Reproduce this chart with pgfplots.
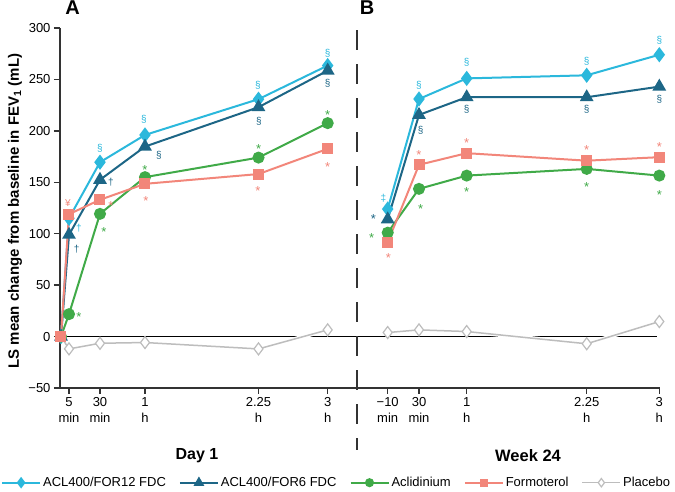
\documentclass[border=0pt]{standalone}
\usepackage{pgfplots}
\pgfplotsset{compat=1.18}
\usepackage{fontspec}
\setmainfont{Liberation Sans}
\definecolor{ccyan}{HTML}{2BB8DC}
\definecolor{cteal}{HTML}{1D6686}
\definecolor{cgreen}{HTML}{40AA48}
\definecolor{csalmon}{HTML}{F2867A}
\definecolor{cgray}{HTML}{BDBDBD}
\definecolor{axgray}{HTML}{333333}
\tikzset{
  sym/.style={inner sep=0pt, font=\fontsize{10}{10}\selectfont},
  star/.style={inner sep=0pt, font=\fontsize{13}{13}\selectfont, yshift=-3pt},
}
\newcommand{\AnS}[3]{\node[sym,text=#3] at (axis cs:#1,#2) {§};}
\newcommand{\AnSt}[3]{\node[star,text=#3] at (axis cs:#1,#2) {*};}
\newcommand{\AnSy}[4]{\node[sym,text=#3] at (axis cs:#1,#2) {#4};}
\begin{document}
\begin{tikzpicture}
\useasboundingbox (0,0) rectangle (675pt,492pt);
\begin{axis}[
  at={(60pt,104pt)}, anchor=south west,
  scale only axis, width=600pt, height=360pt,
  xmin=60, xmax=660, ymin=-50, ymax=300,
  axis x line=bottom, axis y line=left,
  axis line style={-, axgray, line width=1.5pt},
  clip=false,
  xtick={69,100,145,258.5,327.7,387.7,419,466.7,586.7,659.3},
  xticklabels={{5\\min},{30\\min},{1\\h},{2.25\\h},{3\\h},{−10\\min},{30\\min},{1\\h},{2.25\\h},{3\\h}},
  xticklabel style={align=center, font=\fontsize{13}{16}\selectfont, text=black},
  ytick={-50,0,50,100,150,200,250,300},
  yticklabels={−50,0,50,100,150,200,250,300},
  yticklabel style={font=\fontsize{13}{15}\selectfont, text=black},
  tick align=outside,
  major tick length=6pt,
  tick style={axgray, line width=1.5pt},
  ylabel={LS mean change from baseline in FEV\textsubscript{1} (mL)},
  ylabel style={at={(axis description cs:-0.075,0.4917)}, anchor=center, font=\fontsize{15}{15}\selectfont\bfseries},
  legend columns=5,
  legend style={at={(axis description cs:0.461,-0.263)}, anchor=center, draw=none, fill=none,
    font=\fontsize{13}{15}\selectfont,
    /tikz/every even column/.append style={column sep=11pt}},
  legend image code/.code={\draw[mark repeat=2, mark phase=2, #1, every mark/.append style={scale=0.7}] plot coordinates {(0pt,0pt) (19pt,0pt) (38pt,0pt)};},
]
% zero line
\draw[black, line width=1.5pt] (axis cs:60,0) -- (axis cs:657,0);
% separator
\draw[axgray, line width=2.5pt, dash pattern=on 20pt off 14pt] (axis cs:357,298) -- (axis cs:357,-110);

% Placebo (drawn first, with halo)
\addplot[white, line width=4pt, forget plot] coordinates {(61,0) (69,-12) (100,-6.5) (145,-5.8) (258.5,-12) (327.7,6.5)};
\addplot[cgray, line width=1.5pt, mark=diamond*, mark size=6pt, mark options={fill=white, draw=cgray, line width=1.2pt}, forget plot]
  coordinates {(61,0) (69,-12) (100,-6.5) (145,-5.8) (258.5,-12) (327.7,6.5)};
\addplot[white, line width=4pt, forget plot] coordinates {(387.7,3.9) (419,6.5) (466.7,4.9) (586.7,-7) (659.3,14.6)};
\addplot[cgray, line width=1.5pt, mark=diamond*, mark size=6pt, mark options={fill=white, draw=cgray, line width=1.2pt}, forget plot]
  coordinates {(387.7,3.9) (419,6.5) (466.7,4.9) (586.7,-7) (659.3,14.6)};

% ACL400/FOR12 FDC
\addplot[ccyan, line width=2pt, mark=diamond*, mark size=6pt, mark options={fill=ccyan}]
  coordinates {(61,0) (69,115) (100,169.5) (145,196) (258.5,230.8) (327.7,263.5)};
\addlegendentry{ACL400/FOR12 FDC}
\addplot[ccyan, line width=2pt, mark=diamond*, mark size=6pt, mark options={fill=ccyan}, forget plot]
  coordinates {(387.7,124) (419,231) (466.7,251) (586.7,254) (659.3,274)};
% ACL400/FOR6 FDC
\addplot[cteal, line width=2pt, mark=triangle*, mark size=6pt, mark options={fill=cteal}]
  coordinates {(61,0) (69,99) (100,152.4) (145,184.7) (258.5,223) (327.7,258.6)};
\addlegendentry{ACL400/FOR6 FDC}
\addplot[cteal, line width=2pt, mark=triangle*, mark size=6pt, mark options={fill=cteal}, forget plot]
  coordinates {(387.7,114) (419,215.5) (466.7,232.7) (586.7,232.7) (659.3,243)};
% Aclidinium
\addplot[cgreen, line width=2pt, mark=*, mark size=5pt, mark options={fill=cgreen}]
  coordinates {(61,0) (69,21.8) (100,119.3) (145,155) (258.5,174) (327.7,207.5)};
\addlegendentry{Aclidinium}
\addplot[cgreen, line width=2pt, mark=*, mark size=5pt, mark options={fill=cgreen}, forget plot]
  coordinates {(387.7,101) (419,143.6) (466.7,156.5) (586.7,163) (659.3,156.5)};
% Formoterol
\addplot[csalmon, line width=2pt, mark=square*, mark size=4.5pt, mark options={fill=csalmon}]
  coordinates {(61,0) (69,119) (100,133) (145,148.5) (258.5,158) (327.7,182.5)};
\addlegendentry{Formoterol}
\addplot[csalmon, line width=2pt, mark=square*, mark size=4.5pt, mark options={fill=csalmon}, forget plot]
  coordinates {(387.7,91.7) (419,167) (466.7,178.3) (586.7,171) (659.3,174.4)};
% legend for placebo
\addlegendimage{cgray, line width=1.5pt, mark=diamond*, mark size=6pt, mark options={fill=white, draw=cgray, line width=1.2pt}}
\addlegendentry{Placebo}

% annotations Day 1
\AnSy{68}{130}{csalmon}{¥}
\AnSy{79}{105}{ccyan}{†}
\AnSy{76.7}{85}{cteal}{†}
\AnSt{79}{22}{cgreen}
\AnS{100}{183}{ccyan}
\AnSy{111}{150}{cteal}{†}
\AnSt{111}{130}{csalmon}
\AnSt{104}{105}{cgreen}
\AnS{144}{211}{ccyan}
\AnS{159}{176}{cteal}
\AnSt{145}{165}{cgreen}
\AnSt{146}{134.6}{csalmon}
\AnS{258}{244.7}{ccyan}
\AnS{259}{209}{cteal}
\AnSt{258.7}{185.7}{cgreen}
\AnSt{258}{144}{csalmon}
\AnS{327.7}{275.5}{ccyan}
\AnS{327.7}{246}{cteal}
\AnSt{327.7}{218.7}{cgreen}
\AnSt{327.7}{168}{csalmon}
% annotations Week 24
\AnSy{383.3}{134.5}{ccyan}{‡}
\AnSt{373.3}{117}{cteal}
\AnSt{371.7}{99}{cgreen}
\AnSt{388.3}{79}{csalmon}
\AnS{419}{244.7}{ccyan}
\AnS{420.7}{201}{cteal}
\AnSt{419}{179}{csalmon}
\AnSt{420.7}{127}{cgreen}
\AnS{466.7}{266.4}{ccyan}
\AnS{466.7}{221}{cteal}
\AnSt{466.7}{191}{csalmon}
\AnSt{466.7}{143.3}{cgreen}
\AnS{586.7}{268}{ccyan}
\AnS{586.7}{221}{cteal}
\AnSt{586.7}{184.7}{csalmon}
\AnSt{586.7}{148.5}{cgreen}
\AnS{659.3}{287.8}{ccyan}
\AnS{659.3}{231}{cteal}
\AnSt{659.3}{187.3}{csalmon}
\AnSt{659.3}{141}{cgreen}

% panel labels and group labels
\node[font=\fontsize{20}{20}\selectfont\bfseries] at (axis cs:72.5,320) {A};
\node[font=\fontsize{20}{20}\selectfont\bfseries] at (axis cs:367,320) {B};
\node[font=\fontsize{16}{16}\selectfont\bfseries] at (axis cs:197,-116) {Day 1};
\node[font=\fontsize{16.5}{16.5}\selectfont\bfseries] at (axis cs:528,-116) {Week 24};
\end{axis}
\end{tikzpicture}
\end{document}
